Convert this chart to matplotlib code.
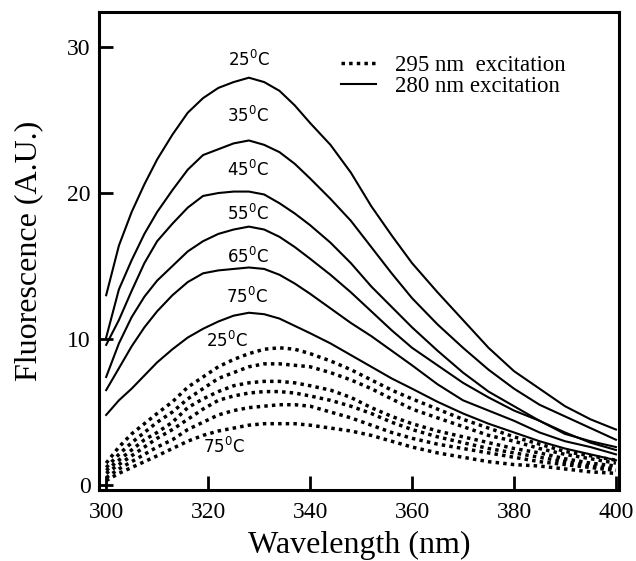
import matplotlib
matplotlib.use("Agg")
import matplotlib.pyplot as plt
import numpy as np

# wavelength grid (nm)
wavelength = [300, 302.5, 305, 307.5, 310, 313, 316, 319, 322, 325, 328, 331, 334, 337,
              340, 344, 348, 352, 356, 360, 365, 370, 375, 380, 385, 390, 395, 400]

# 280 nm excitation (solid)
ex280_25 = [13.0, 16.4, 18.7, 20.6, 22.3, 24.0, 25.5, 26.5, 27.2, 27.6, 27.9, 27.6, 27.0, 26.0,
            24.8, 23.3, 21.4, 19.1, 17.1, 15.2, 13.2, 11.3, 9.4, 7.8, 6.6, 5.4, 4.5, 3.8]
ex280_35 = [10.1, 13.4, 15.4, 17.2, 18.7, 20.2, 21.6, 22.6, 23.0, 23.4, 23.6, 23.3, 22.8, 22.0,
            21.0, 19.6, 18.1, 16.3, 14.5, 12.8, 11.0, 9.4, 7.9, 6.6, 5.5, 4.7, 3.9, 3.1]
ex280_45 = [9.6, 11.3, 13.3, 15.2, 16.7, 17.9, 19.0, 19.8, 20.0, 20.1, 20.1, 19.9, 19.3, 18.6,
            17.8, 16.6, 15.2, 13.6, 12.2, 10.8, 9.2, 7.7, 6.4, 5.4, 4.4, 3.5, 3.0, 2.6]
ex280_55 = [7.4, 9.7, 11.5, 12.9, 14.0, 15.0, 16.0, 16.7, 17.2, 17.5, 17.7, 17.5, 17.0, 16.3,
            15.5, 14.4, 13.2, 11.9, 10.6, 9.4, 8.2, 7.0, 6.0, 5.1, 4.4, 3.6, 2.9, 2.4]
ex280_65 = [6.5, 8.0, 9.5, 10.8, 11.9, 13.0, 13.9, 14.5, 14.7, 14.8, 14.9, 14.8, 14.4, 13.8,
            13.1, 12.1, 11.1, 10.2, 9.2, 8.2, 6.9, 5.8, 5.1, 4.4, 3.6, 3.0, 2.6, 2.1]
ex280_75 = [4.8, 5.8, 6.6, 7.5, 8.4, 9.3, 10.1, 10.7, 11.2, 11.6, 11.8, 11.7, 11.4, 10.9,
            10.4, 9.7, 8.9, 8.1, 7.3, 6.6, 5.7, 4.9, 4.2, 3.6, 3.0, 2.5, 2.1, 1.7]

# 295 nm excitation (dotted)
ex295_25 = [1.5, 2.6, 3.5, 4.2, 4.9, 5.7, 6.7, 7.4, 8.1, 8.6, 9.0, 9.3, 9.4, 9.3,
            9.0, 8.5, 7.9, 7.2, 6.5, 5.9, 5.2, 4.5, 3.9, 3.3, 2.8, 2.3, 2.0, 1.7]
ex295_35 = [1.2, 2.1, 2.9, 3.6, 4.3, 5.0, 5.9, 6.6, 7.3, 7.7, 8.1, 8.3, 8.3, 8.2,
            8.1, 7.7, 7.2, 6.6, 5.9, 5.2, 4.6, 4.0, 3.4, 3.0, 2.5, 2.1, 1.8, 1.5]
ex295_45 = [1.0, 1.7, 2.4, 3.1, 3.6, 4.3, 5.3, 5.9, 6.4, 6.8, 7.0, 7.1, 7.1, 7.0,
            6.8, 6.5, 6.0, 5.3, 4.7, 4.2, 3.7, 3.3, 2.9, 2.5, 2.2, 1.8, 1.5, 1.3]
ex295_55 = [0.8, 1.4, 2.0, 2.6, 3.2, 3.8, 4.5, 5.2, 5.8, 6.1, 6.3, 6.4, 6.4, 6.3,
            6.1, 5.8, 5.4, 4.9, 4.3, 3.8, 3.3, 2.9, 2.5, 2.2, 1.9, 1.6, 1.3, 1.1]
ex295_65 = [0.5, 1.1, 1.6, 2.1, 2.6, 3.1, 3.8, 4.3, 4.8, 5.1, 5.3, 5.4, 5.5, 5.5,
            5.4, 5.0, 4.6, 4.1, 3.6, 3.2, 2.8, 2.5, 2.2, 1.9, 1.6, 1.4, 1.2, 1.0]
ex295_75 = [0.3, 0.8, 1.2, 1.6, 2.0, 2.5, 3.0, 3.4, 3.7, 3.9, 4.1, 4.2, 4.2, 4.2,
            4.1, 3.9, 3.7, 3.4, 3.0, 2.6, 2.2, 1.9, 1.6, 1.4, 1.3, 1.1, 0.9, 0.8]

solid_curves = [ex280_25, ex280_35, ex280_45, ex280_55, ex280_65, ex280_75]
dotted_curves = [ex295_25, ex295_35, ex295_45, ex295_55, ex295_65, ex295_75]

# temperature labels (text, x, y in data units)
temp_labels = [("25", 328.0, 29.1), ("35", 327.8, 25.3), ("45", 327.8, 21.6),
               ("55", 327.8, 18.6), ("65", 327.8, 15.6), ("75", 327.6, 12.9),
               ("25", 323.7, 9.9), ("75", 323.1, 2.6)]

serif = "Liberation Serif"

fig = plt.figure(figsize=(6.36, 5.61), dpi=100)
ax = fig.add_axes([0.1557, 0.1266, 0.8176, 0.8520])

for i, ys in enumerate(dotted_curves):
    ax.plot(wavelength, ys, color="black", lw=2.5, linestyle=(0, (1, 1.2)),
            label="295 nm  excitation" if i == 0 else None)
for i, ys in enumerate(solid_curves):
    ax.plot(wavelength, ys, color="black", lw=1.5,
            label="280 nm excitation" if i == 0 else None)

for t, x, y in temp_labels:
    ax.text(x, y, t + r"$^{\mathregular{0}}$C", ha="center", va="center",
            fontsize=12, family="DejaVu Sans")

ax.set_xlim(298.6, 400.6)
ax.set_ylim(-0.34, 32.4)
ax.set_xticks([300, 320, 340, 360, 380, 400])
ax.set_yticks([0, 10, 20, 30])

for sp in ax.spines.values():
    sp.set_linewidth(2.2)
ax.tick_params(direction="in", length=10, width=2, labelsize=17)
ax.tick_params(axis="x", pad=9)
ax.tick_params(axis="y", pad=6)
for lab in ax.get_xticklabels() + ax.get_yticklabels():
    lab.set_family(serif)

ax.set_xlabel("Wavelength (nm)", family=serif, fontsize=23, labelpad=5)
ax.set_ylabel("Fluorescence (A.U.)", family=serif, fontsize=23, labelpad=17)

leg = ax.legend(loc="upper left", bbox_to_anchor=(0.465, 0.911), frameon=False,
                prop={"family": serif, "size": 16.5}, handlelength=1.55,
                handletextpad=0.8, labelspacing=0.0, borderpad=0, borderaxespad=0)

plt.savefig("out.png", dpi=100)
